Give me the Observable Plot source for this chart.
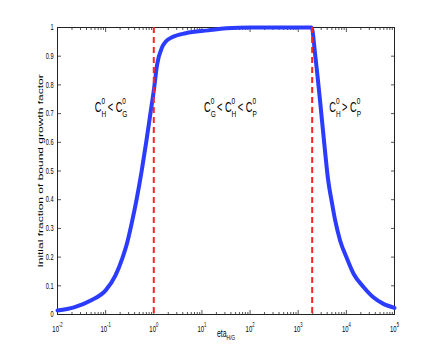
<!DOCTYPE html>
<html><head><meta charset="utf-8">
<script src="https://cdn.jsdelivr.net/npm/d3@7"></script>
<script src="https://cdn.jsdelivr.net/npm/@observablehq/plot@0.6"></script>
<style>body{margin:0;background:#fff}</style>
</head><body><div id="chart"></div>
<script>
// curve values
const eta  = [0.01, 0.022, 0.049, 0.1, 0.16, 0.22, 0.28, 0.35, 0.45, 0.56, 0.71, 0.85, 1, 1.17, 1.48, 1.8, 2.4, 4.6, 13.5, 32, 100, 1900, 2240, 2880, 3550, 4170, 5010, 5890, 7410, 10000, 14100, 22900, 36300, 58900, 100000];
const frac = [0.014, 0.025, 0.049, 0.084, 0.136, 0.194, 0.25, 0.32, 0.41, 0.50, 0.61, 0.70, 0.78, 0.87, 0.93, 0.952, 0.966, 0.98, 0.99, 0.997, 1.0, 1.0, 0.908, 0.735, 0.58, 0.47, 0.39, 0.326, 0.258, 0.20, 0.142, 0.095, 0.060, 0.037, 0.023];
const boundaryEta = [1, 1950];
const xTickValues = [1e-2, 1e-1, 1e0, 1e1, 1e2, 1e3, 1e4, 1e5];
const yTickValues = [0, 0.1, 0.2, 0.3, 0.4, 0.5, 0.6, 0.7, 0.8, 0.9, 1];
const regionLabels = ["C_H^0 < C_G^0", "C_G^0 < C_H^0 < C_P^0", "C_H^0 > C_P^0"];
const regionEta = [0.13, 39, 9440];
const regionFrac = [0.722, 0.722, 0.722];
const xLabel = "eta_{H/G}";
const yLabel = "Initial fraction of bound growth factor";

const curveData = eta.map((e, i) => ({eta: e, frac: frac[i]}));
const minorTicks = [];
for (let k = -2; k < 5; k++) for (let m = 2; m < 10; m++) minorTicks.push(m * Math.pow(10, k));

const FONT = "'Liberation Sans',Arial,Helvetica,sans-serif";
const TICK = "#555";
const SQUEEZE = 0.66; // the reference's lettering is horizontally condensed

const chart = Plot.plot({
  width: 436, height: 354,
  marginLeft: 57, marginRight: 42, marginTop: 27, marginBottom: 40,
  style: {fontFamily: FONT, fontSize: "9px", background: "#fff", color: "#000", overflow: "visible"},
  x: {type: "log", domain: [1e-2, 1e5], label: null},
  y: {domain: [0, 1], label: null},
  marks: [
    Plot.axisX(minorTicks, {anchor: "bottom", tickSize: -2, fill: "none", stroke: TICK, label: null}),
    Plot.axisX(minorTicks, {anchor: "top", tickSize: -2, fill: "none", stroke: TICK, label: null}),
    Plot.axisX(xTickValues, {anchor: "bottom", tickSize: -4, tickPadding: 15, stroke: TICK, fill: "#000",
      fontSize: 9, tickFormat: d => `10^${Math.round(Math.log10(d))}`, label: null}),
    Plot.axisX(xTickValues, {anchor: "top", tickSize: -4, fill: "none", stroke: TICK, label: null}),
    Plot.axisY(yTickValues, {anchor: "left", tickSize: -4, tickPadding: 8, stroke: TICK, fill: "#000",
      fontSize: 8.5, tickFormat: d => String(d), label: null}),
    Plot.axisY(yTickValues, {anchor: "right", tickSize: -4, fill: "none", stroke: TICK, label: null}),
    Plot.frame({stroke: "#222"}),
    Plot.line(curveData, {x: "eta", y: "frac", stroke: "#2b3cff", strokeWidth: 4, curve: "monotone-x"}),
    Plot.ruleX(boundaryEta, {stroke: "#ff2424", strokeWidth: 2, strokeDasharray: "6,4"}),
    Plot.text(regionLabels, {x: (d, i) => regionEta[i], y: (d, i) => regionFrac[i], text: d => d, fontSize: 14, fill: "#000"}),
    Plot.text([xLabel], {frameAnchor: "bottom", dy: 22, fontSize: 10.5, fill: "#000"}),
    Plot.text([yLabel], {frameAnchor: "left", textAnchor: "middle", rotate: -90, dx: -17, fontSize: 12, fill: "#000"})
  ]
});
document.getElementById("chart").appendChild(chart);

// turn _x / ^x markup into real sub/superscript tspans
const NS = "http://www.w3.org/2000/svg";
function richify(el) {
  const s = el.textContent;
  if (!/[_^]/.test(s)) return;
  const fs = parseFloat(getComputedStyle(el).fontSize) || 10;
  const supShift = -0.55 * fs, subShift = 0.36 * fs, scriptSize = 0.7 * fs;
  const parts = s.split(/(_\{[^}]*\}|_-?\w|\^\{[^}]*\}|\^-?\w+)/).filter(p => p !== "");
  while (el.firstChild) el.removeChild(el.firstChild);
  let shift = 0, prev = null;
  for (const p of parts) {
    const kind = p[0] === "_" ? "sub" : p[0] === "^" ? "sup" : "base";
    const content = kind === "base" ? p : p.slice(1).replace(/^\{/, "").replace(/\}$/, "");
    const target = kind === "sub" ? subShift : kind === "sup" ? supShift : 0;
    const t = document.createElementNS(NS, "tspan");
    t.textContent = content;
    if (kind !== "base") t.setAttribute("font-size", scriptSize);
    const dy = target - shift;
    if (dy) t.setAttribute("dy", dy);
    shift = target;
    el.appendChild(t);
    if (kind !== "base" && prev && prev.kind !== kind) {
      t.setAttribute("dx", -prev.el.getComputedTextLength());
    }
    prev = kind === "base" ? null : {kind, el: t};
  }
}
function squeeze(el) {
  const isY = el.textContent === yLabel;
  const sc = isY ? ` scale(1,${SQUEEZE})` : ` scale(${SQUEEZE},1)`;
  const tr = el.getAttribute("transform");
  if (tr) el.setAttribute("transform", tr + sc);
  else {
    const x = +el.getAttribute("x") || 0, y = +el.getAttribute("y") || 0;
    el.setAttribute("transform", `translate(${x},${y})${sc} translate(${-x},${-y})`);
  }
}
chart.querySelectorAll("text").forEach(el => { richify(el); squeeze(el); });
</script>
</body></html>
